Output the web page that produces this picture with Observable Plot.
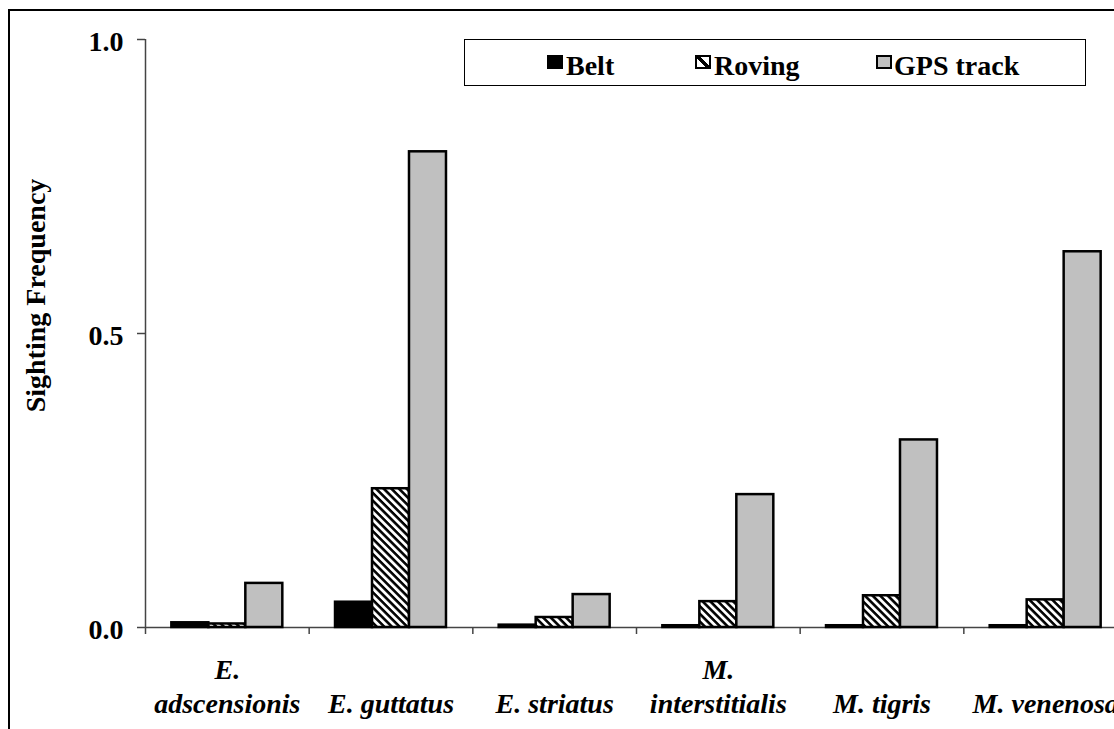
<!DOCTYPE html>
<html>
<head>
<meta charset="utf-8">
<script src="https://cdn.jsdelivr.net/npm/d3@7"></script>
<script src="https://cdn.jsdelivr.net/npm/@observablehq/plot@0.6"></script>
<style>
  html, body { margin: 0; padding: 0; background: #fff; overflow: hidden; width: 1114px; height: 729px; }
  #wrap { position: relative; width: 1114px; height: 729px; overflow: hidden; }
  #frame { position: absolute; left: 8px; top: 9px; width: 1200px; height: 800px; border: 2px solid #000; }
  #chart { position: absolute; left: 0; top: 0; }
  #chart svg { max-width: none !important; }
  #legend { position: absolute; left: 464px; top: 39px; width: 622px; height: 47px; border: 1.5px solid #000;
            box-sizing: border-box; background: #fff; font: bold 28px "Liberation Serif", "Times New Roman", serif; color: #000; }
  #legend .sw { position: absolute; top: 14.5px; width: 16px; height: 14px; box-sizing: border-box; border: 2px solid #000; }
  #legend .lb { position: absolute; top: 12px; line-height: 28px; white-space: nowrap; }
</style>
</head>
<body>
<div id="wrap">
  <div id="frame"></div>
  <div id="chart"></div>
  <div id="legend"></div>
</div>
<script>
// ---- data ----
const species = ["E. adscensionis", "E. guttatus", "E. striatus", "M. interstitialis", "M. tigris", "M. venenosa"];
const speciesLabels = ["E.\nadscensionis", "E. guttatus", "E. striatus", "M.\ninterstitialis", "M. tigris", "M. venenosa"];
const methods = ["Belt", "Roving", "GPS track"];
const belt   = [0.008, 0.043, 0.004, 0.003, 0.003, 0.003];
const roving = [0.006, 0.236, 0.017, 0.044, 0.054, 0.047];
const gps    = [0.075, 0.809, 0.056, 0.226, 0.319, 0.639];
const yTicks = [0, 0.5, 1];
const yTickLabels = ["0.0", "0.5", "1.0"];

const series = [belt, roving, gps];
const fills = ["#000000", "url(#hatch)", "#c0c0c0"];
const rows = species.flatMap((s, i) => methods.map((m, k) => ({i, k, species: s, method: m, value: series[k][i]})));

const barW = 0.226;          // fraction of a category band per bar
const groupW = barW * methods.length;
const x1 = d => d.i + 0.5 - groupW / 2 + d.k * barW;
const x2 = d => x1(d) + barW;
const FS = 28;

const chart = Plot.plot({
  width: 1140,
  height: 729,
  marginLeft: 145,
  marginRight: 13,
  marginTop: 39,
  marginBottom: 102,
  x: {type: "linear", domain: [0, species.length], label: null},
  y: {domain: [0, 1], label: null},
  style: {fontFamily: "'Liberation Serif', 'Times New Roman', serif", fontWeight: "bold", fontSize: FS + "px", color: "#000",
          background: "transparent", overflow: "visible", maxWidth: "none"},
  marks: [
    Plot.ruleX([0], {y1: 0, y2: 1, stroke: "#444", strokeWidth: 1.5}),
    Plot.ruleY([0], {x1: 0, x2: species.length, stroke: "#444", strokeWidth: 1.5}),
    Plot.axisY({ticks: yTicks, tickSize: 8, tickFormat: () => "", stroke: "#444", strokeWidth: 1.5, label: null}),
    Plot.axisY({ticks: yTicks, tickSize: 0, tickPadding: 22, dy: 3, tickFormat: d => yTickLabels[yTicks.indexOf(d)], label: null, fontSize: FS, fontWeight: "bold"}),
    Plot.axisX({ticks: d3.range(species.length + 1), tickSize: 7, tickFormat: () => "", stroke: "#444", strokeWidth: 1.5, label: null}),
    ...methods.map((m, k) => Plot.rectY(rows.filter(d => d.k === k), {
      x1, x2, y1: 0, y2: "value", fill: fills[k], stroke: "#000", strokeWidth: 2.5
    })),
    Plot.text(speciesLabels, {
      x: (d, i) => i + 0.5, frameAnchor: "bottom", lineAnchor: "bottom", textAnchor: "middle", dy: 85,
      fontStyle: "italic", fontWeight: "bold", fontSize: FS, lineHeight: 34 / FS, fill: "#000"
    }),
    Plot.text(["Sighting Frequency"], {
      frameAnchor: "left", textAnchor: "middle", lineAnchor: "middle", dx: -109, dy: -38, rotate: -90,
      fontWeight: "bold", fontSize: FS, fill: "#000"
    })
  ]
});

// hatch pattern definition
const ns = "http://www.w3.org/2000/svg";
const defs = document.createElementNS(ns, "defs");
const pat = document.createElementNS(ns, "pattern");
pat.setAttribute("id", "hatch");
pat.setAttribute("patternUnits", "userSpaceOnUse");
pat.setAttribute("width", "5.4");
pat.setAttribute("height", "5.4");
pat.setAttribute("patternTransform", "rotate(-45)");
const bg = document.createElementNS(ns, "rect");
bg.setAttribute("width", "5.4"); bg.setAttribute("height", "5.4"); bg.setAttribute("fill", "#fff");
const ln = document.createElementNS(ns, "line");
ln.setAttribute("x1", "1.4"); ln.setAttribute("y1", "-1"); ln.setAttribute("x2", "1.4"); ln.setAttribute("y2", "7");
ln.setAttribute("stroke", "#000"); ln.setAttribute("stroke-width", "2.6");
pat.appendChild(bg); pat.appendChild(ln); defs.appendChild(pat);
chart.insertBefore(defs, chart.firstChild);
chart.style.maxWidth = "none";
document.getElementById("chart").appendChild(chart);

// legend
const legendItems = [
  {swLeft: 82, lbLeft: 101, bg: "#000"},
  {swLeft: 230, lbLeft: 249, bg: "linear-gradient(45deg, #fff 38%, #000 38%, #000 62%, #fff 62%)"},
  {swLeft: 411, lbLeft: 429, bg: "#c0c0c0"}
];
const legend = document.getElementById("legend");
methods.forEach((m, k) => {
  const sw = document.createElement("div");
  sw.className = "sw";
  sw.style.left = legendItems[k].swLeft + "px";
  sw.style.background = legendItems[k].bg;
  const lb = document.createElement("div");
  lb.className = "lb";
  lb.style.left = legendItems[k].lbLeft + "px";
  lb.textContent = m;
  legend.appendChild(sw);
  legend.appendChild(lb);
});
</script>
</body>
</html>
